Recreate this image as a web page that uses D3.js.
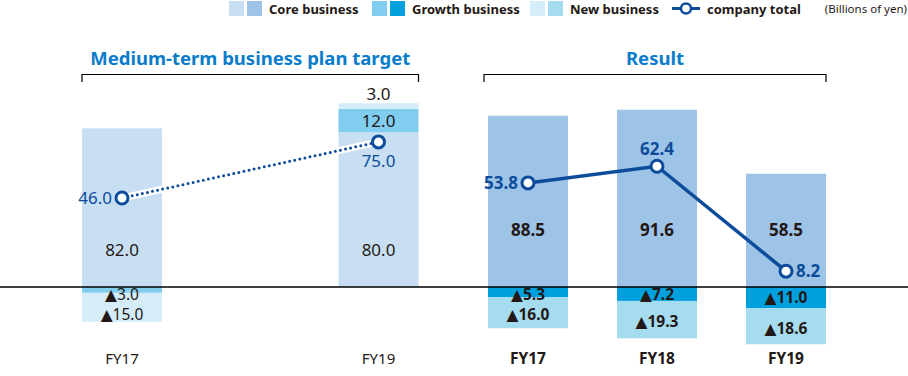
<!DOCTYPE html>
<html>
<head>
<meta charset="utf-8">
<script src="https://cdn.jsdelivr.net/npm/d3@7/dist/d3.min.js"></script>
<style>
  body { margin: 0; background: #fff; }
  svg { display: block; font-family: "Noto Sans", "DejaVu Sans", sans-serif; }
</style>
</head>
<body>
<svg id="chart" width="908" height="376"></svg>
<script>
(function () {
    const width = 908;
    const height = 376;

    // years shown on the x axis
    const years = ["FY17", "FY18", "FY19"];

    // Medium-term business plan target
    const planYears = ["FY17", "FY19"];
    const planCore = [82.0, 80.0];
    const planGrowth = [-3.0, 12.0];
    const planNew = [-15.0, 3.0];
    const planTotal = [46.0, 75.0];

    // Result
    const resultYears = ["FY17", "FY18", "FY19"];
    const resultCore = [88.5, 91.6, 58.5];
    const resultGrowth = [-5.3, -7.2, -11.0];
    const resultNew = [-16.0, -19.3, -18.6];
    const resultTotal = [53.8, 62.4, 8.2];

    const colors = {
        plan: { core: "#c8dff3", growth: "#80cdef", new: "#d5edf9" },
        result: { core: "#9dc3e6", growth: "#00a0de", new: "#a6dcf0" },
        line: "#0d4b9b",
        title: "#0a7cc9",
        text: "#231815"
    };

    const svg = d3.select("#chart");

    const y = d3.scaleLinear().domain([-30, 100]).range([345.05, 93.5]);
    const xPlan = d3.scalePoint().domain(years).range([122, 378.5]);
    const xResult = d3.scalePoint().domain(years).range([528, 786]);
    const barW = 80;

    const fmt = v => (v < 0 ? "\u25B2" : "") + Math.abs(v).toFixed(1);

    // build stacked segments: positives stack up, negatives stack down
    function stackRows(yrs, core, growth, neu) {
        return yrs.map((yr, i) => {
            const segs = [];
            let pos = 0, neg = 0;
            [["core", core[i]], ["growth", growth[i]], ["new", neu[i]]].forEach(([key, v]) => {
                if (v >= 0) { segs.push({ key, v, y0: pos, y1: pos + v }); pos += v; }
                else { segs.push({ key, v, y0: neg + v, y1: neg }); neg += v; }
            });
            return { yr, segs, top: pos };
        });
    }

    const planRows = stackRows(planYears, planCore, planGrowth, planNew);
    const resultRows = stackRows(resultYears, resultCore, resultGrowth, resultNew);

    function drawBars(rows, x, pal, cls) {
        const g = svg.append("g").attr("class", cls);
        rows.forEach(r => {
            g.selectAll(null)
                .data(r.segs)
                .enter()
                .append("rect")
                .attr("x", x(r.yr) - barW / 2)
                .attr("width", barW)
                .attr("y", d => y(d.y1))
                .attr("height", d => y(d.y0) - y(d.y1))
                .attr("fill", d => pal[d.key]);
        });
        return g;
    }

    drawBars(planRows, xPlan, colors.plan, "plan-bars");
    drawBars(resultRows, xResult, colors.result, "result-bars");

    // zero line
    svg.append("line")
        .attr("x1", 0).attr("x2", width)
        .attr("y1", y(0)).attr("y2", y(0))
        .attr("stroke", "#000").attr("stroke-width", 1.5);

    // segment labels
    function segLabels(rows, x, weight, coreOffset) {
        rows.forEach(r => {
            r.segs.forEach(s => {
                let ly, size = 17;
                if (s.key === "core") ly = y(0) - coreOffset;
                else if (s.v < 0 && s.key === "growth") { ly = Math.max((y(s.y0) + y(s.y1)) / 2, y(0) + 7); size = 15.5; }
                else if (s.v < 0) { ly = Math.max((y(s.y0) + y(s.y1)) / 2 + 2, y(0) + 27.5); size = 15.5; }
                else if (y(s.y0) - y(s.y1) < 10) ly = y(s.y1) - 9;   // thin top segment: label above
                else ly = (y(s.y0) + y(s.y1)) / 2;
                svg.append("text")
                    .attr("x", x(r.yr))
                    .attr("y", ly)
                    .attr("dy", "0.36em")
                    .attr("text-anchor", "middle")
                    .attr("font-size", size)
                    .attr("font-weight", weight)
                    .attr("fill", colors.text)
                    .text(fmt(s.v));
            });
        });
    }
    segLabels(planRows, xPlan, 400, 37);
    segLabels(resultRows, xResult, 700, 57);

    // company total lines
    const planLine = d3.line().x((d, i) => xPlan(planYears[i])).y(d => y(d));
    const resultLine = d3.line().x((d, i) => xResult(resultYears[i])).y(d => y(d));

    svg.append("path")
        .attr("d", planLine(planTotal))
        .attr("fill", "none")
        .attr("stroke", "#fff")
        .attr("stroke-width", 7);
    svg.append("path")
        .attr("d", planLine(planTotal))
        .attr("fill", "none")
        .attr("stroke", colors.line)
        .attr("stroke-width", 3)
        .attr("stroke-linecap", "round")
        .attr("stroke-dasharray", "0,5.2");

    svg.append("path")
        .attr("d", resultLine(resultTotal))
        .attr("fill", "none")
        .attr("stroke", colors.line)
        .attr("stroke-width", 3.5);

    function markers(vals, yrs, x) {
        svg.append("g").selectAll("circle")
            .data(vals)
            .enter()
            .append("circle")
            .attr("cx", (d, i) => x(yrs[i]))
            .attr("cy", d => y(d))
            .attr("r", 6)
            .attr("fill", "#fff")
            .attr("stroke", colors.line)
            .attr("stroke-width", 3);
    }
    markers(planTotal, planYears, xPlan);
    markers(resultTotal, resultYears, xResult);

    // total labels: where each one sits relative to its marker
    const planTotalPos = ["left", "below"];
    const resultTotalPos = ["left", "above", "right"];

    function totalLabels(vals, yrs, x, pos, weight) {
        vals.forEach((v, i) => {
            const cx = x(yrs[i]), cy = y(v);
            let tx = cx, ty = cy, anchor = "middle";
            if (pos[i] === "left") { tx = cx - 10; anchor = "end"; }
            if (pos[i] === "right") { tx = cx + 10; anchor = "start"; }
            if (pos[i] === "above") ty = cy - 17;
            if (pos[i] === "below") ty = cy + 19;
            svg.append("text")
                .attr("x", tx).attr("y", ty)
                .attr("dy", "0.36em")
                .attr("text-anchor", anchor)
                .attr("font-size", 17)
                .attr("font-weight", weight)
                .attr("fill", colors.line)
                .text(fmt(v));
        });
    }
    totalLabels(planTotal, planYears, xPlan, planTotalPos, 400);
    totalLabels(resultTotal, resultYears, xResult, resultTotalPos, 700);

    // x labels
    planYears.forEach(yr => {
        svg.append("text").attr("x", xPlan(yr)).attr("y", 364)
            .attr("text-anchor", "middle").attr("font-size", 15)
            .attr("fill", colors.text).text(yr);
    });
    resultYears.forEach(yr => {
        svg.append("text").attr("x", xResult(yr)).attr("y", 364)
            .attr("text-anchor", "middle").attr("font-size", 15.5).attr("font-weight", 700)
            .attr("fill", colors.text).text(yr);
    });

    // group brackets + titles
    const groups = [
        { title: "Medium-term business plan target", x0: xPlan("FY17") - barW / 2, x1: xPlan("FY19") + barW / 2 },
        { title: "Result", x0: xResult("FY17") - barW / 2 - 4, x1: xResult("FY19") + barW / 2 }
    ];
    groups.forEach(gp => {
        svg.append("path")
            .attr("d", `M${gp.x0},82V74.5H${gp.x1}V82`)
            .attr("fill", "none")
            .attr("stroke", "#000")
            .attr("stroke-width", 1.2);
        svg.append("text")
            .attr("x", (gp.x0 + gp.x1) / 2).attr("y", 65)
            .attr("text-anchor", "middle")
            .attr("font-size", 18.5).attr("font-weight", 700)
            .attr("fill", colors.title)
            .text(gp.title);
    });

    // legend
    const legend = svg.append("g").attr("class", "legend");
    const legendItems = [
        { label: "Core business", x: 229, key: "core" },
        { label: "Growth business", x: 372, key: "growth" },
        { label: "New business", x: 530, key: "new" }
    ];
    legendItems.forEach(it => {
        legend.append("rect").attr("x", it.x).attr("y", 1).attr("width", 15).attr("height", 15)
            .attr("fill", colors.plan[it.key]);
        legend.append("rect").attr("x", it.x + 18).attr("y", 1).attr("width", 15).attr("height", 15)
            .attr("fill", colors.result[it.key]);
        legend.append("text").attr("x", it.x + 40).attr("y", 13.5)
            .attr("font-size", 13).attr("font-weight", 700).attr("fill", colors.text)
            .text(it.label);
    });
    legend.append("line").attr("x1", 672).attr("x2", 700).attr("y1", 8.5).attr("y2", 8.5)
        .attr("stroke", colors.line).attr("stroke-width", 3);
    legend.append("circle").attr("cx", 686).attr("cy", 8.5).attr("r", 5)
        .attr("fill", "#fff").attr("stroke", colors.line).attr("stroke-width", 2.5);
    legend.append("text").attr("x", 707).attr("y", 13.5)
        .attr("font-size", 13).attr("font-weight", 700).attr("fill", colors.text)
        .text("company total");
    legend.append("text").attr("x", 907).attr("y", 13)
        .attr("text-anchor", "end")
        .attr("font-size", 11.5).attr("fill", colors.text)
        .text("(Billions of yen)");
})();
</script>
</body>
</html>
